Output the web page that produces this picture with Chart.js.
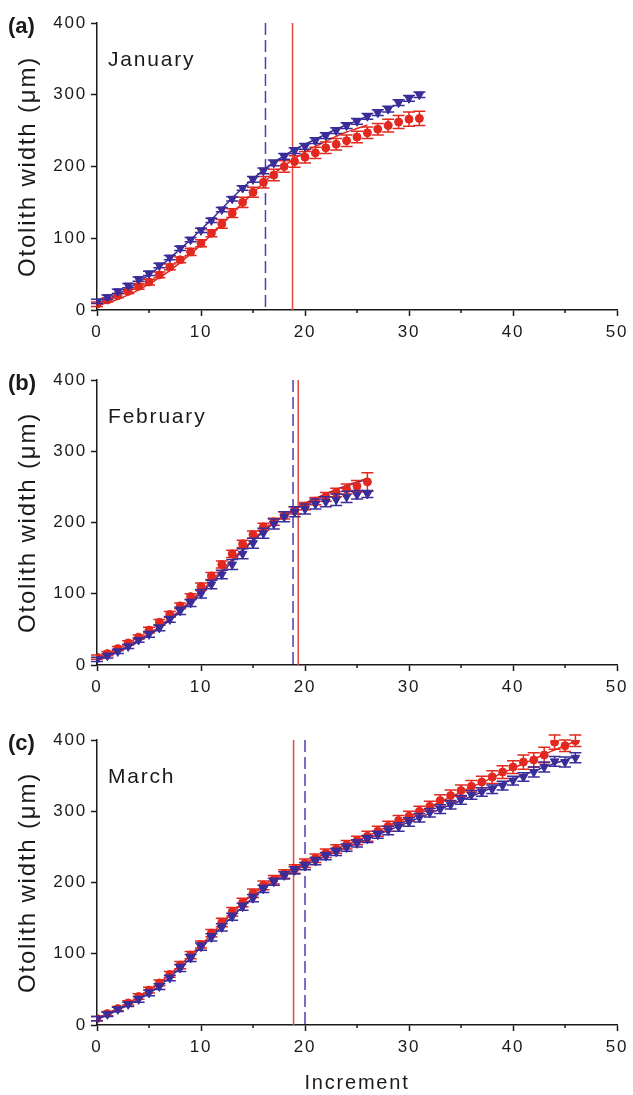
<!DOCTYPE html>
<html>
<head>
<meta charset="utf-8">
<script src="https://cdn.jsdelivr.net/npm/chart.js@4.4.0/dist/chart.umd.min.js"></script>
<style>
  body { margin: 0; background: #fff; width: 633px; height: 1095px; position: relative; overflow: hidden; }
  canvas { position: absolute; left: 0; }
</style>
</head>
<body>
<canvas id="janChart" width="633" height="350" style="top:0px"></canvas>
<canvas id="febChart" width="633" height="348" style="top:357px"></canvas>
<canvas id="marChart" width="633" height="378" style="top:717px"></canvas>
<script>
// increment index (x) shared by all panels
const increments = [0,1,2,3,4,5,6,7,8,9,10,11,12,13,14,15,16,17,18,19,20,21,22,23,24,25,26,27,28,29,30,31,32,33,34,35,36,37,38,39,40,41,42,43,44,45,46];
const xTicks = [0, 10, 20, 30, 40, 50];
const minorTicks = [5, 15, 25, 35, 45];
const yTicks = [0, 100, 200, 300, 400];

// (a) January
const janRed      = [8,14,20,26,33,39,49,60,70,81,93,107,120,135,150,164,178,188,200,207,213,219,226,231,236,241,247,252,257,262,266,267];
const janRedErr   = [3,3,3,3,4,4,4,4,4,5,5,5,6,6,7,7,8,8,8,8,8,8,8,8,8,8,8,8,9,9,10,10];
const janBlue     = [12,18,26,34,43,51,62,73,86,98,111,125,140,155,170,182,194,205,214,222,228,236,243,250,257,263,270,275,280,289,295,300];
const janBlueErr  = [3,3,3,3,3,3,3,3,3,3,3,3,3,3,3,4,4,4,4,4,4,4,4,4,4,4,4,4,4,4,4,4];
const janRedFit   = [6,10,15,21,28,36,45,55,66,78,91,105,119,134,149,163,177,190,201,211,220,228,235,242,248,253,258];
const janBlueFit  = [10,15,22,30,39,49,60,72,85,98,112,126,141,156,170,183,195,206,215,224,231,238,245,252,258,264,270];
const janLines    = [16.2, 18.8];   // [blue dashed, red solid]

// (b) February
const febRed      = [11,16,23,31,39,49,60,71,83,96,110,125,141,156,170,183,194,201,210,217,223,230,236,242,247,251,257];
const febRedErr   = [3,3,3,3,3,4,4,4,4,4,5,5,5,5,5,5,5,5,5,5,5,5,6,6,7,8,13];
const febBlue     = [8,13,19,26,35,43,52,64,76,87,100,113,127,141,156,171,185,198,208,215,219,226,229,232,236,239,240];
const febBlueErr  = [3,3,3,3,3,4,4,4,5,5,6,6,6,7,7,7,7,7,7,7,7,7,7,8,8,6,5];
const febRedFit   = [9,14,20,27,35,44,54,65,77,90,104,118,133,148,162,176,189,200,210,219,227,234,240,246,252,257,262];
const febBlueFit  = [8,12,18,25,33,42,52,63,75,88,101,115,130,145,160,174,187,199,209,218,226,233,240,246,251,256,261];
const febLines    = [18.85, 19.35];

// (c) March
const marRed      = [9,16,23,31,40,49,59,71,84,98,113,129,144,159,172,185,196,204,212,219,227,234,241,247,253,259,265,272,279,287,293,300,307,315,322,329,335,341,348,355,362,369,372,379,397,392,399];
const marRedErr   = [3,3,3,3,4,4,4,4,5,5,5,5,6,6,6,6,6,6,6,6,6,6,6,6,6,6,7,7,7,7,7,7,7,8,8,8,8,8,9,9,9,10,10,11,10,8,8];
const marBlue     = [9,15,22,29,36,45,54,66,80,94,110,123,137,152,166,178,191,201,210,217,223,230,237,243,249,255,261,267,273,278,285,291,298,303,309,316,323,327,331,336,343,348,355,362,370,369,375];
const marBlueErr  = [3,3,3,3,4,4,4,4,5,5,5,5,5,5,5,5,5,5,5,5,5,5,5,5,5,5,5,5,6,6,6,6,6,6,6,6,6,6,6,6,6,6,7,7,7,7,7];
const marRedFit   = [8,15,22,30,39,48,59,71,84,98,112,127,142,157,171,184,195,205,213,220,227,234,241,247,253,259,265,272,279,286,292,299,306,313,320,327,334,340,347,354,360,367,373,380,386,392,398];
const marBlueFit  = [8,14,21,28,36,45,55,67,80,94,109,123,138,152,166,179,191,201,210,217,224,231,237,243,249,255,261,267,273,279,285,291,297,303,309,315,321,327,333,339,345,351,356,362,367,372,377];
const marLines    = [20.0, 18.9];

const RED = '#e2281f';
const BLUE = '#3a2d9a';
const FONT = '"Liberation Sans", Arial, sans-serif';
const INK = '#1a1a1a';

const pts = vals => vals.map((v, i) => ({ x: increments[i], y: v }));

const extras = {
  id: 'extras',
  beforeDraw(chart) {
    chart.ctx.letterSpacing = '1.8px';
  },
  beforeDatasetsDraw(chart, args, opts) {
    const { ctx, scales: { x, y } } = chart;
    ctx.save();
    ctx.lineWidth = 1.5;
    // red solid line
    ctx.strokeStyle = '#e8463c';
    ctx.setLineDash([]);
    let px = x.getPixelForValue(opts.lines[1]);
    ctx.beginPath(); ctx.moveTo(px, y.getPixelForValue(400)); ctx.lineTo(px, y.getPixelForValue(0)); ctx.stroke();
    // blue dashed line
    ctx.strokeStyle = '#4a40b0';
    ctx.setLineDash([12, 5]);
    px = x.getPixelForValue(opts.lines[0]);
    ctx.beginPath(); ctx.moveTo(px, y.getPixelForValue(400)); ctx.lineTo(px, y.getPixelForValue(0)); ctx.stroke();
    ctx.restore();
  },
  beforeDatasetDraw(chart, args) {
    const ds = chart.data.datasets[args.index];
    if (!ds.err) return;
    const { ctx, scales: { y } } = chart;
    ctx.save();
    ctx.strokeStyle = ds.borderColor;
    ctx.lineWidth = 1.5;
    args.meta.data.forEach((pt, i) => {
      const v = ds.data[i].y, e = ds.err[i];
      const top = y.getPixelForValue(v + e), bot = y.getPixelForValue(v - e);
      ctx.beginPath();
      ctx.moveTo(pt.x, top); ctx.lineTo(pt.x, bot);
      ctx.moveTo(pt.x - 6, top); ctx.lineTo(pt.x + 6, top);
      ctx.moveTo(pt.x - 6, bot); ctx.lineTo(pt.x + 6, bot);
      ctx.stroke();
    });
    ctx.restore();
  },
  afterDraw(chart, args, opts) {
    const { ctx, chartArea, scales: { x } } = chart;
    ctx.save();
    // minor x ticks
    ctx.strokeStyle = INK;
    ctx.lineWidth = 1.5;
    minorTicks.forEach(v => {
      const px = x.getPixelForValue(v);
      ctx.beginPath(); ctx.moveTo(px, chartArea.bottom); ctx.lineTo(px, chartArea.bottom + 3); ctx.stroke();
    });
    ctx.fillStyle = INK;
    ctx.textBaseline = 'middle';
    ctx.letterSpacing = '0px';
    ctx.font = 'bold 22px ' + FONT;
    ctx.fillText(opts.tag, 8, chartArea.top + 4);
    ctx.letterSpacing = '1.8px';
    ctx.font = '21px ' + FONT;
    ctx.fillText(opts.month, 108, chartArea.top + 37);
    ctx.restore();
  }
};

function makePanel(id, p) {
  new Chart(document.getElementById(id), {
    type: 'scatter',
    data: {
      datasets: [
        { label: 'Blue', data: pts(p.blue), err: p.blueErr, order: 1,
          pointStyle: 'triangle', rotation: 180, pointRadius: 5,
          backgroundColor: BLUE, borderColor: BLUE, borderWidth: 1 },
        { label: 'Red', data: pts(p.red), err: p.redErr, order: 2,
          pointStyle: 'circle', pointRadius: 4,
          backgroundColor: RED, borderColor: RED, borderWidth: 1 },
        { label: 'Blue fit', data: pts(p.blueFit), order: 3, showLine: true,
          pointRadius: 0, borderColor: BLUE, borderWidth: 1.5, cubicInterpolationMode: 'monotone' },
        { label: 'Red fit', data: pts(p.redFit), order: 4, showLine: true,
          pointRadius: 0, borderColor: RED, borderWidth: 1.5, cubicInterpolationMode: 'monotone' }
      ]
    },
    options: {
      responsive: false,
      animation: false,
      events: [],
      layout: { padding: { top: 23, right: 16, left: 0, bottom: 0 } },
      plugins: {
        legend: { display: false },
        tooltip: { enabled: false },
        extras: { lines: p.lines, tag: p.tag, month: p.month }
      },
      scales: {
        x: {
          type: 'linear', min: 0, max: 50,
          afterFit: s => { s.height = p.xHeight; },
          afterBuildTicks: s => { s.ticks = xTicks.map(v => ({ value: v })); },
          ticks: { color: INK, font: { size: 17, family: FONT }, padding: 6, maxRotation: 0, autoSkip: false },
          grid: { drawOnChartArea: false, tickLength: 6, tickWidth: 1.5, tickColor: INK },
          border: { color: INK, width: 1.5 },
          title: { display: p.xTitle, text: 'Increment', color: INK, font: { size: 20, family: FONT }, padding: { top: 0, bottom: 0 } }
        },
        y: {
          min: 0, max: 400,
          afterFit: s => { s.width = 97; },
          afterBuildTicks: s => { s.ticks = yTicks.map(v => ({ value: v })); },
          ticks: { color: INK, font: { size: 17, family: FONT }, padding: 4 },
          grid: { drawOnChartArea: false, tickLength: 6, tickWidth: 1.5, tickColor: INK },
          border: { color: INK, width: 1.5 },
          title: { display: true, text: 'Otolith width (μm)', color: INK, font: { size: 24, family: FONT }, padding: { top: 14, bottom: 0 } }
        }
      }
    },
    plugins: [extras]
  });
}

makePanel('janChart', { red: janRed, redErr: janRedErr, blue: janBlue, blueErr: janBlueErr,
  redFit: janRedFit, blueFit: janBlueFit, lines: janLines, tag: '(a)', month: 'January', xHeight: 40, xTitle: false });
makePanel('febChart', { red: febRed, redErr: febRedErr, blue: febBlue, blueErr: febBlueErr,
  redFit: febRedFit, blueFit: febBlueFit, lines: febLines, tag: '(b)', month: 'February', xHeight: 40, xTitle: false });
makePanel('marChart', { red: marRed, redErr: marRedErr, blue: marBlue, blueErr: marBlueErr,
  redFit: marRedFit, blueFit: marBlueFit, lines: marLines, tag: '(c)', month: 'March', xHeight: 70, xTitle: true });
</script>
</body>
</html>
